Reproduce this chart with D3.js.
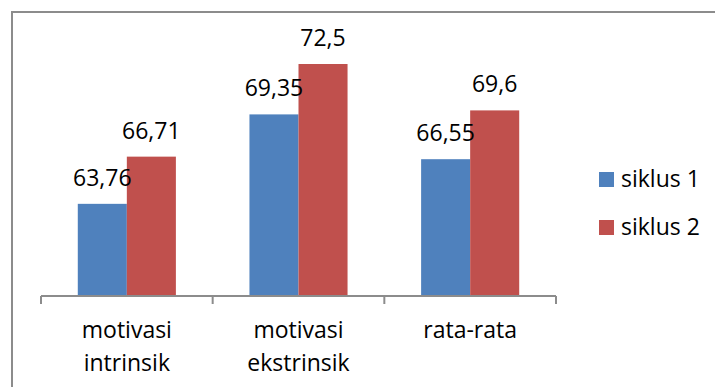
<!DOCTYPE html>
<html>
<head>
<meta charset="utf-8">
<script src="https://cdn.jsdelivr.net/npm/d3@7"></script>
<style>
  body { margin: 0; background: #fff; }
  svg text { font-family: "Open Sans", sans-serif; fill: #000; }
</style>
</head>
<body>
<div id="chart"></div>
<script>
// data
const categories = [["motivasi", "intrinsik"], ["motivasi", "ekstrinsik"], ["rata-rata"]];
const seriesNames = ["siklus 1", "siklus 2"];
const siklus1 = [63.76, 69.35, 66.55];
const siklus2 = [66.71, 72.5, 69.6];
const labels1 = ["63,76", "69,35", "66,55"];
const labels2 = ["66,71", "72,5", "69,6"];
const colors = ["#4f81bd", "#c0504d"];

const W = 715, H = 387;
const plot = {left: 41, right: 556, top: 40, bottom: 296};

const svg = d3.select("#chart")
    .append("svg")
        .attr("width", W)
        .attr("height", H);

// outer frame (only top and left edges are visible in the crop)
svg.append("path")
    .attr("d", `M12,${H + 5}V12H${W + 5}`)
    .attr("fill", "none")
    .attr("stroke", "#8c8c8c")
    .attr("stroke-width", 2);

const x = d3.scaleBand()
    .domain(d3.range(categories.length))
    .range([plot.left, plot.right]);

// bar width = band / 3.5 (gap 150%)
const x1 = d3.scaleBand()
    .domain([0, 1])
    .range([0, x.bandwidth()])
    .paddingOuter(0.75)
    .paddingInner(0);

const y = d3.scaleLinear()
    .domain([58, 74])
    .range([plot.bottom, plot.top]);

const rows = categories.map((c, i) => ({i, values: [siklus1[i], siklus2[i]], labels: [labels1[i], labels2[i]]}));

const groups = svg.selectAll("g.group")
    .data(rows)
    .join("g")
    .attr("class", "group")
    .attr("transform", d => `translate(${x(d.i)},0)`);

groups.selectAll("rect")
    .data(d => d.values.map((v, s) => ({v, s})))
    .join("rect")
    .attr("x", d => x1(d.s))
    .attr("y", d => y(d.v))
    .attr("width", x1.bandwidth())
    .attr("height", d => plot.bottom - y(d.v))
    .attr("fill", d => colors[d.s]);

groups.selectAll("text.val")
    .data(d => d.values.map((v, s) => ({v, s, t: d.labels[s]})))
    .join("text")
    .attr("class", "val")
    .attr("x", d => x1(d.s) + x1.bandwidth() / 2)
    .attr("y", d => y(d.v) - 18)
    .attr("text-anchor", "middle")
    .style("font-size", "23px")
    .text(d => d.t);

// x axis line with ticks between categories
const axis = svg.append("g")
    .attr("transform", `translate(0,${plot.bottom})`);
axis.append("line")
    .attr("x1", plot.left).attr("x2", plot.right)
    .attr("stroke", "#8c8c8c").attr("stroke-width", 2);
axis.selectAll("line.tk")
    .data(d3.range(categories.length + 1))
    .join("line")
    .attr("class", "tk")
    .attr("x1", d => plot.left + d * x.step())
    .attr("x2", d => plot.left + d * x.step())
    .attr("y1", 0).attr("y2", 8)
    .attr("stroke", "#8c8c8c").attr("stroke-width", 2);

// category labels
svg.selectAll("text.cat")
    .data(rows)
    .join("text")
    .attr("class", "cat")
    .attr("text-anchor", "middle")
    .style("font-size", "23px")
    .attr("transform", d => `translate(${x(d.i) + x.bandwidth() / 2},338)`)
    .selectAll("tspan")
    .data(d => categories[d.i])
    .join("tspan")
    .attr("x", 0)
    .attr("y", (d, j) => j * 33)
    .text(d => d);

// legend
const legend = svg.selectAll("g.legend")
    .data(seriesNames)
    .join("g")
    .attr("class", "legend")
    .attr("transform", (d, i) => `translate(599,${172 + i * 48})`);
legend.append("rect")
    .attr("width", 15).attr("height", 15)
    .attr("fill", (d, i) => colors[i]);
legend.append("text")
    .attr("x", 22).attr("y", 15)
    .style("font-size", "23px")
    .text(d => d);
</script>
</body>
</html>
